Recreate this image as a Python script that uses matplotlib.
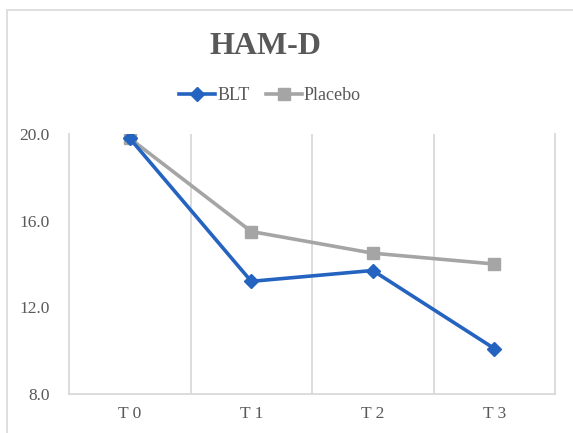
import matplotlib
matplotlib.use("Agg")
import matplotlib.pyplot as plt
from matplotlib.patches import Rectangle
from matplotlib.lines import Line2D

categories = ["T0", "T1", "T2", "T3"]
tick_labels = ["T 0", "T 1", "T 2", "T 3"]
blt = [19.8, 13.2, 13.7, 10.1]
placebo = [19.8, 15.5, 14.5, 14.0]
yticks = [8.0, 12.0, 16.0, 20.0]

plt.rcParams['font.family'] = ['Liberation Serif', 'DejaVu Serif']

W, H = 573, 433
fig = plt.figure(figsize=(W / 100, H / 100), dpi=100)
fig.patch.set_facecolor('white')

# outer chart border
fig.patches.append(Rectangle((7 / W, -0.1), 1.2, 1 - 10 / H + 0.1, transform=fig.transFigure,
                             fill=False, edgecolor='#D9D9D9', linewidth=1.2, zorder=0))

ax = fig.add_axes([69 / W, 1 - 394 / H, (555 - 69) / W, (394 - 134) / H])
x = list(range(len(categories)))

grid_c = '#D9D9D9'
ax.plot(x, placebo, color='#A5A5A5', lw=2.6, marker='s', ms=9, zorder=3, label='Placebo')
ax.plot(x, blt, color='#2563C0', lw=2.6, marker='D', ms=7.5, zorder=4, label='BLT')

ax.set_xlim(-0.5, 3.5)
ax.set_ylim(8, 20)
ax.set_yticks(yticks)
ax.set_yticklabels([f"{v:.1f}" for v in yticks])
ax.set_xticks(x)
ax.set_xticklabels(tick_labels)
ax.set_xticks([0.5, 1.5, 2.5], minor=True)
ax.grid(True, which='minor', axis='x', color=grid_c, lw=1.3)
ax.tick_params(which='both', length=0)
ax.tick_params(axis='y', labelsize=12.5, labelcolor='#595959', pad=14)
ax.tick_params(axis='x', labelsize=12.5, labelcolor='#595959', pad=9)
for s in ['left', 'right', 'bottom']:
    ax.spines[s].set_color(grid_c)
    ax.spines[s].set_linewidth(1.3)
ax.spines['top'].set_visible(False)

fig.text(266 / W, 1 - 46 / H, "HAM-D", ha='center', va='center', fontsize=23,
         fontweight='bold', color='#595959')

handles = [Line2D([], [], color='#2563C0', lw=2.6, marker='D', ms=7.5),
           Line2D([], [], color='#A5A5A5', lw=2.6, marker='s', ms=9)]
fig.legend(handles, ['BLT', 'Placebo'], loc='center', bbox_to_anchor=(270 / W, 1 - 96 / H),
           ncol=2, frameon=False, fontsize=13, labelcolor='#595959', handlelength=2.0,
           handletextpad=0.1, columnspacing=0.9)

fig.savefig("out.png", dpi=100)
